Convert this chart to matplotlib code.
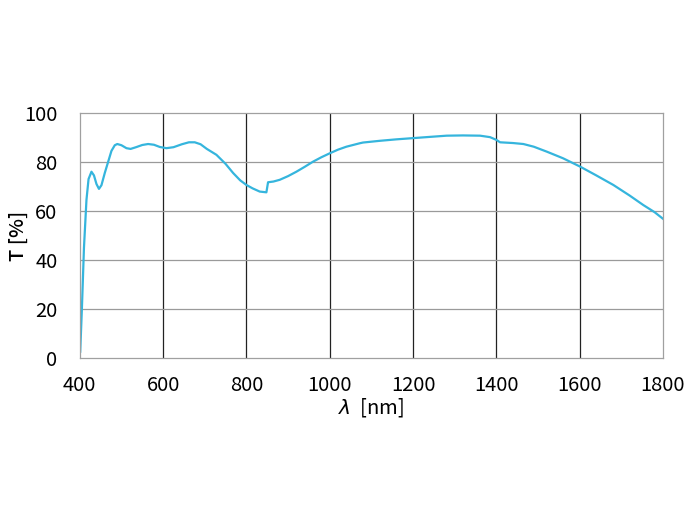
import matplotlib.pyplot as plt
import numpy as np

plt.rcParams['font.family'] = ['Noto Sans CJK JP', 'DejaVu Sans']

# wavelength (nm) and transmittance (%)
wavelength = [401, 405, 410, 416, 421, 428, 434, 440, 446, 452, 460, 468, 476, 484, 490,
              500, 512, 522, 535, 550, 564, 578, 592, 608, 625, 645, 662, 676, 690,
              705, 728, 750, 768, 785, 800, 815, 832, 848,
              852, 865, 880, 900, 920, 940, 960, 980, 1000, 1020, 1040, 1072, 1080, 1120,
              1160, 1200, 1240, 1281, 1320, 1361, 1385, 1400, 1409, 1440, 1465, 1490,
              1521, 1560, 1601, 1640, 1681, 1720, 1753, 1780, 1801]
transmission = [2.6, 20, 45, 64.5, 73, 76, 74.5, 71, 69, 70.5, 75.5, 80, 84.5, 86.8, 87.3,
                86.8, 85.6, 85.3, 86.0, 86.9, 87.3, 87.0, 86.1, 85.6, 86.0, 87.2, 88.0, 88.0, 87.2,
                85.3, 82.9, 79.2, 75.5, 72.5, 70.6, 69.2, 67.9, 67.6,
                71.7, 72.0, 72.7, 74.2, 76.0, 78.0, 80.1, 81.9, 83.5, 85.0, 86.2, 87.6, 87.9, 88.6,
                89.2, 89.7, 90.2, 90.7, 90.8, 90.7, 90.1, 89.0, 88.0, 87.7, 87.3, 86.2,
                84.2, 81.5, 78.1, 74.5, 70.6, 66.3, 62.4, 59.5, 56.7]

fig = plt.figure(figsize=(7, 5.25), dpi=100)
ax = fig.add_axes([0.114, 0.318, 0.833, 0.467])

ax.plot(wavelength, transmission, color='#35b5dd', linewidth=1.6)

ax.set_xlim(400, 1800)
ax.set_ylim(0, 100)
ax.set_xticks(np.arange(400, 1801, 200))
ax.set_yticks(np.arange(0, 101, 20))

for x in range(600, 1800, 200):
    ax.axvline(x, color='#222222', linewidth=0.9, zorder=0)
for y in range(20, 100, 20):
    ax.axhline(y, color='#9a9a9a', linewidth=0.9, zorder=0)

for sp in ax.spines.values():
    sp.set_color('#a0a0a0')
    sp.set_linewidth(0.9)

ax.tick_params(length=0, labelsize=14.5, colors='black')
ax.tick_params(axis='x', pad=12)
ax.tick_params(axis='y', pad=16)
ax.set_xlabel(r'$\lambda$  [nm]', fontsize=14.5, labelpad=0)
ax.set_ylabel('T [%]', fontsize=14.5, labelpad=-3, fontweight='medium')

plt.savefig('out.png', dpi=100)
plt.close()
